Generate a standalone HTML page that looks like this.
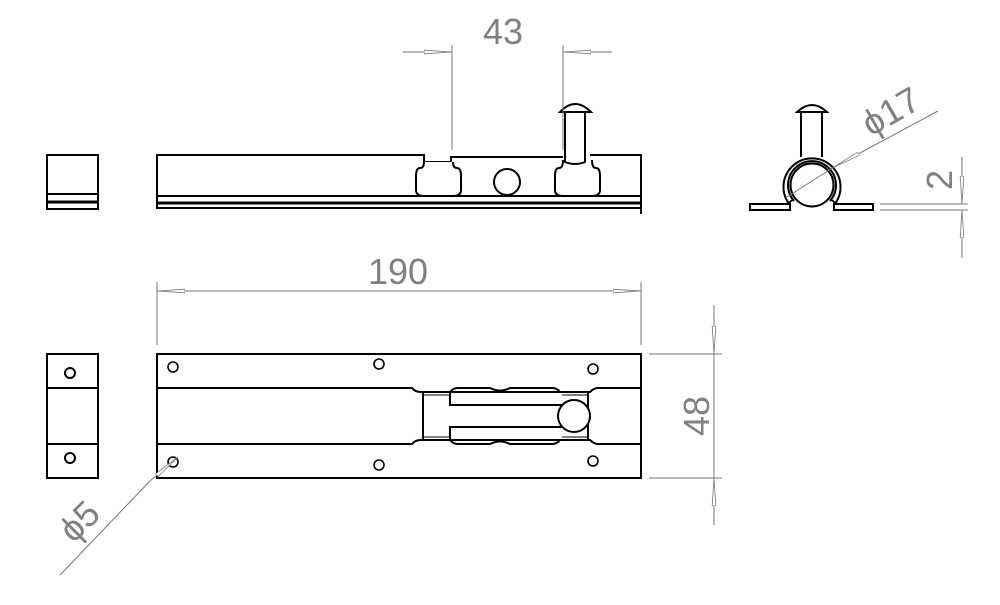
<!DOCTYPE html>
<html><head><style>html,body{margin:0;padding:0;background:#fff}svg{display:block}</style></head>
<body>
<svg width="1000" height="605" viewBox="0 0 1000 605" xmlns="http://www.w3.org/2000/svg">
<defs>
<marker id="a" viewBox="0 0 28 6" refX="28" refY="3" markerWidth="28" markerHeight="6" markerUnits="userSpaceOnUse" orient="auto"><path d="M0,1.2 L28,3 L0,4.8 Z" fill="#fff" stroke="#777" stroke-width="0.8"/></marker>
</defs>
<g fill="none" stroke="#000" stroke-width="2">
<!-- top-left small -->
<rect x="47" y="155" width="51" height="54"/>
<line x1="47" y1="194" x2="98" y2="194"/>
<line x1="47" y1="202" x2="98" y2="202" stroke-width="3"/>
<!-- side view main -->
<path d="M157,209 V155 H424 V162 H451 V157 H563"/>
<path d="M590,155 H641 V214"/>
<line x1="157" y1="196" x2="641" y2="196"/>
<line x1="157" y1="203" x2="641" y2="203" stroke-width="3"/>
<line x1="157" y1="208" x2="641" y2="208"/>
<path d="M424,162 q0,6 -4,6 q-4,0 -4,8 v14 q0,6 8,6 h29 q8,0 8,-6 v-14 q0,-8 -4,-8 q-4,0 -4,-6" fill="#fff"/>
<path d="M563,160 q0,8 -4,8 q-4,0 -4,8 v14 q0,6 8,6 h29 q8,0 8,-6 v-14 q0,-8 -4,-8 q-4,0 -4,-8" fill="#fff"/>
<circle cx="507" cy="182" r="13"/>
<path d="M565,113 V162 q10,4 20,0 V113"/>
<path d="M560,112 q15,-16 31,0 Z" fill="#fff"/>
<!-- end view -->
<path d="M801,157 V113 M822,113 V157"/>
<path d="M797,112 q15,-14 30,0 Z" fill="#fff"/>
<path d="M790,205 A28.5,28.5 0 1 1 834,205" fill="#fff"/>
<path d="M794,201 A24,24 0 1 1 830,201"/>
<circle cx="812" cy="185" r="21.5" fill="#fff"/>
<path d="M790,205 q-2,-3 3,-5 M834,205 q2,-3 -3,-5" stroke-width="1.5"/>
<rect x="750" y="204" width="40" height="6" fill="#fff"/>
<rect x="834" y="204" width="39" height="6" fill="#fff"/>
<!-- bottom-left small -->
<rect x="47" y="354" width="51" height="124"/>
<line x1="47" y1="388" x2="98" y2="388"/>
<line x1="47" y1="444" x2="98" y2="444"/>
<circle cx="70" cy="373" r="5"/>
<circle cx="70" cy="458" r="5"/>
<!-- plan view -->
<rect x="157" y="354" width="484" height="124"/>
<path d="M157,388 H412 q3,4 9,4 H450 q3,-4 8,-4 H490 q10,5 20,0 H552 q5,0 8,4 H590 q4,-4 8,-4 H641"/>
<path d="M157,444 H412 q3,-4 9,-4 H450 q3,4 8,4 H490 q10,-5 20,0 H552 q5,0 8,-4 H590 q4,4 8,4 H641"/>
<rect x="423" y="392" width="165" height="48"/>
<path d="M450,392 V405 H562 M450,440 V427 H562"/>
<line x1="423" y1="395" x2="450" y2="395" stroke-width="1"/>
<line x1="423" y1="437" x2="450" y2="437" stroke-width="1"/>
<line x1="562" y1="395" x2="588" y2="395" stroke-width="1"/>
<line x1="562" y1="437" x2="588" y2="437" stroke-width="1"/>
<circle cx="574" cy="416" r="16" fill="#fff"/>
<g stroke-width="1.6">
<circle cx="173" cy="367" r="5"/><circle cx="379" cy="364" r="5"/><circle cx="593" cy="369" r="5"/>
<circle cx="173" cy="462" r="5"/><circle cx="379" cy="465" r="5"/><circle cx="593" cy="461" r="5"/>
</g>
</g>
<g stroke="#777" stroke-width="1" fill="none">
<line x1="452" y1="45" x2="452" y2="150"/>
<line x1="563" y1="45" x2="563" y2="150"/>
<line x1="403" y1="52" x2="452" y2="52" marker-end="url(#a)"/>
<line x1="612" y1="52" x2="563" y2="52" marker-end="url(#a)"/>
<line x1="157" y1="282" x2="157" y2="345"/>
<line x1="641" y1="282" x2="641" y2="345"/>
<line x1="300" y1="291" x2="157" y2="291" marker-end="url(#a)"/>
<line x1="300" y1="291" x2="641" y2="291" marker-end="url(#a)"/>
<line x1="649" y1="354" x2="722" y2="354"/>
<line x1="649" y1="478" x2="722" y2="478"/>
<line x1="714" y1="305" x2="714" y2="354" marker-end="url(#a)"/>
<line x1="714" y1="525" x2="714" y2="478" marker-end="url(#a)"/>
<line x1="714" y1="354" x2="714" y2="478"/>
<line x1="880" y1="204" x2="968" y2="204"/>
<line x1="880" y1="210" x2="968" y2="210"/>
<line x1="962" y1="157" x2="962" y2="204" marker-end="url(#a)"/>
<line x1="962" y1="258" x2="962" y2="210" marker-end="url(#a)"/>
<line x1="938" y1="111" x2="834" y2="167" marker-end="url(#a)"/>
<line x1="834" y1="167" x2="787" y2="197"/>
<line x1="60" y1="575" x2="150" y2="481"/>
<line x1="150" y1="481" x2="178" y2="457" marker-end="url(#a)"/>
</g>
<g fill="#808080" font-family="Liberation Sans, sans-serif" font-size="36">
<text x="503" y="44" text-anchor="middle">43</text>
<text x="398" y="284" text-anchor="middle">190</text>
<text transform="translate(709,416) rotate(-90)" text-anchor="middle">48</text>
<text transform="translate(952,180) rotate(-90)" text-anchor="middle">2</text>
<text transform="translate(897,122) rotate(-30)" text-anchor="middle">ϕ17</text>
<text transform="translate(88,530) rotate(-45)" text-anchor="middle">ϕ5</text>
</g>
</svg>
</body></html>
